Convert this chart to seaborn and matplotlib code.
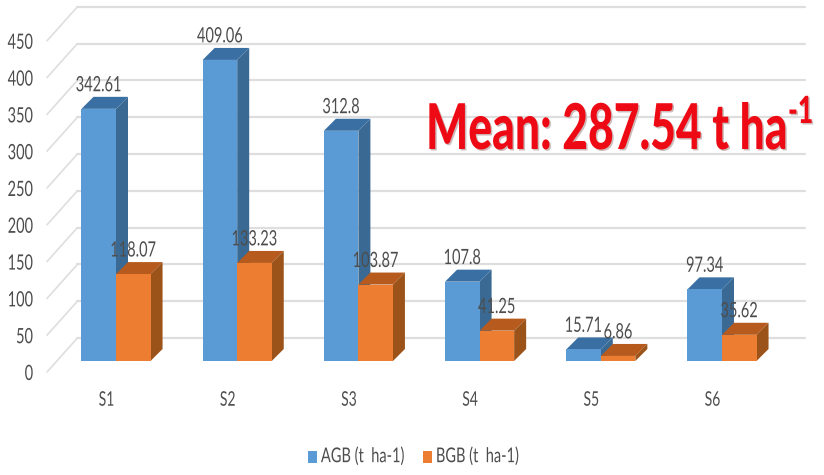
import pandas as pd
import seaborn as sns
import matplotlib.pyplot as plt
import matplotlib.patheffects as pe
from matplotlib.colors import to_rgb
from matplotlib.lines import Line2D
from matplotlib.patches import Polygon
from matplotlib.transforms import Affine2D, IdentityTransform

sns.set_style("white")
plt.rcParams['font.family'] = ['Lato', 'DejaVu Sans']

# Values
sites = ['S1', 'S2', 'S3', 'S4', 'S5', 'S6']
agb = [342.61, 409.06, 312.8, 107.8, 15.71, 97.34]
bgb = [118.07, 133.23, 103.87, 41.25, 6.86, 35.62]
agb_name = 'AGB (t  ha-1)'
bgb_name = 'BGB (t  ha-1)'
y_ticks = [0, 50, 100, 150, 200, 250, 300, 350, 400, 450]

# front, top and side colours of the fake 3D bars
front_colors = {agb_name: '#5b9bd5', bgb_name: '#ed7d31'}
top_colors = {agb_name: '#3a6fa3', bgb_name: '#b65a1e'}
side_colors = {agb_name: '#3a6a94', bgb_name: '#9c5319'}
text_color = '#4d4d4d'
grid_color = '#dedede'

W, H = 824, 475
depth = 12  # bar depth in pixels


class Tall(pe.AbstractPathEffect):
    """The reference image is squeezed sideways, so stretch glyphs upward from the baseline."""

    def __init__(self, factor, offset=(0, 0), color=None):
        super().__init__()
        self.factor = factor
        self.shift = offset
        self.color = color

    def draw_path(self, renderer, gc, tpath, affine, rgbFace=None):
        ox, oy = affine.get_matrix()[0, 2], affine.get_matrix()[1, 2]
        stretched = affine + Affine2D().translate(-ox, -oy).scale(1, self.factor).translate(
            ox + self.shift[0], oy + self.shift[1])
        face = to_rgb(self.color) if self.color else rgbFace
        renderer.draw_path(gc, tpath, stretched, face)


data = pd.DataFrame({
    'site': sites * 2,
    'value': agb + bgb,
    'series': [agb_name] * len(sites) + [bgb_name] * len(sites),
})

fig = plt.figure(figsize=(W / 100, H / 100), dpi=100, facecolor='white')
ax = fig.add_axes([55.4 / W, 114 / H, 727.2 / W, 361 / H])
sns.barplot(data=data, x='site', y='value', hue='series', palette=front_colors,
            width=0.57, gap=0, saturation=1, linewidth=0, ax=ax)
ax.set_xlim(-0.5, 5.5)
ax.set_ylim(0, 361 / 0.736)
ax.set_xlabel('')
ax.set_ylabel('')
sns.despine(ax=ax, left=True, bottom=True)
ax.patch.set_alpha(0)

# Gridlines sit on the back wall, tick labels on the front edge of the floor
ax.set_yticks(y_ticks)
ax.tick_params(axis='y', length=0, pad=16, labelsize=10.5, labelcolor=text_color)
ax.tick_params(axis='x', length=0, pad=25, labelsize=10, labelcolor=text_color)
ax.grid(axis='y', color=grid_color, linewidth=1.6)
ax.set_axisbelow(True)
for line in ax.get_ygridlines():
    line.set_transform(line.get_transform() + Affine2D().translate(22, 23))
    line.set_clip_on(False)
for label in ax.get_yticklabels():
    label.set_transform(label.get_transform() + Affine2D().translate(0, -13.5))
    label.set_path_effects([Tall(1.45)])
for label in ax.get_xticklabels():
    label.set_transform(label.get_transform() + Affine2D().translate(-9.5, 0))
    label.set_path_effects([Tall(1.45)])

# Diagonals of the side wall
for tick in y_ticks:
    x0, y0 = ax.transData.transform((-0.5, tick))
    ax.add_line(Line2D([x0 - 8.4, x0 + 22], [y0 - 11, y0 + 23], color=grid_color,
                       linewidth=1.2, transform=IdentityTransform(), clip_on=False, zorder=1))

# Top and side faces from the seaborn bars
names = [agb_name, bgb_name]
for order, (container, name) in enumerate(zip(ax.containers, names)):
    for bar in container:
        (x0, y0) = ax.transData.transform((bar.get_x(), 0))
        (x1, y1) = ax.transData.transform((bar.get_x() + bar.get_width(), bar.get_height()))
        top = Polygon([(x0, y1), (x1, y1), (x1 + depth, y1 + depth), (x0 + depth, y1 + depth)],
                      facecolor=top_colors[name], edgecolor='none',
                      transform=IdentityTransform(), zorder=3 + 2 * order)
        side = Polygon([(x1, y0), (x1 + depth, y0 + depth), (x1 + depth, y1 + depth), (x1, y1)],
                       facecolor=side_colors[name], edgecolor='none',
                       transform=IdentityTransform(), zorder=3 + 2 * order)
        ax.add_patch(top)
        ax.add_patch(side)
        bar.set_zorder(4 + 2 * order)
    labels = ax.bar_label(container, fmt='%g', padding=10.5, fontsize=10.5, color=text_color)
    for label in labels:
        label.set_zorder(10)
        label.set_path_effects([Tall(1.45)])

sns.move_legend(ax, 'center', bbox_to_anchor=(413.5 / W, 1 - 458 / H),
                bbox_transform=fig.transFigure, ncol=2, frameon=False, title=None,
                fontsize=10.5, labelcolor=text_color, handlelength=0.6, handleheight=0.85,
                handletextpad=0.3, columnspacing=1.25)
for label in ax.get_legend().get_texts():
    label.set_path_effects([Tall(1.4)])

# Big red note
note_effects = [Tall(1.42, offset=(1.5, -1.5), color='#cdbcbc'), Tall(1.42)]
fig.text(426 / W, 1 - 149 / H, 'Mean: 287.54 t ha', color='#ee0a14', fontsize=32,
         fontweight='black', ha='left', va='baseline', path_effects=note_effects)
fig.text(788 / W, 1 - 123 / H, '-1', color='#ee0a14', fontsize=19,
         fontweight='black', ha='left', va='baseline', path_effects=note_effects)

plt.savefig('out.png', dpi=100)
